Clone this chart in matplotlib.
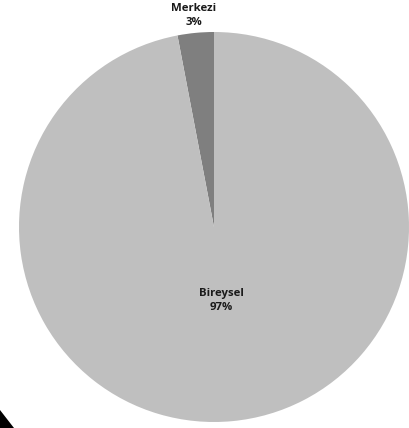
import numpy as np
import matplotlib
matplotlib.use("Agg")
import matplotlib.pyplot as plt
from matplotlib.patches import Polygon

# Share of procurement type
labels = ["Merkezi", "Bireysel"]
shares = [3, 97]
colors = ["#7f7f7f", "#bfbfbf"]
label_dist = [1.09, 0.38]

W, H = 409, 428
fig = plt.figure(figsize=(W / 100, H / 100), dpi=100)
fig.patch.set_facecolor("white")

cx, cy, r = 214, 227, 195
ax = fig.add_axes([(cx - r) / W, (H - cy - r) / H, 2 * r / W, 2 * r / H])
wedges, _ = ax.pie(shares, colors=colors, startangle=90, counterclock=True,
                   radius=1.0, wedgeprops=dict(edgecolor="none", linewidth=0))
ax.set_xlim(-1, 1)
ax.set_ylim(-1, 1)
ax.set_aspect("equal")
ax.axis("off")

total = sum(shares)
for w, lab, val, d in zip(wedges, labels, shares, label_dist):
    mid = np.deg2rad((w.theta1 + w.theta2) / 2)
    ax.text(d * np.cos(mid), d * np.sin(mid),
            f"{lab}\n{round(100 * val / total)}%",
            ha="center", va="center", fontsize=8.2, fontweight="bold",
            family="Open Sans", color="#1a1a1a", linespacing=1.35,
            clip_on=False)

# dark corner mark at the lower left
fig.patches.append(Polygon([[0, 1 - 410 / H], [0, 0], [14 / W, 0]],
                           closed=True, transform=fig.transFigure,
                           facecolor="black", edgecolor="none"))

fig.savefig("out.png", dpi=100)
